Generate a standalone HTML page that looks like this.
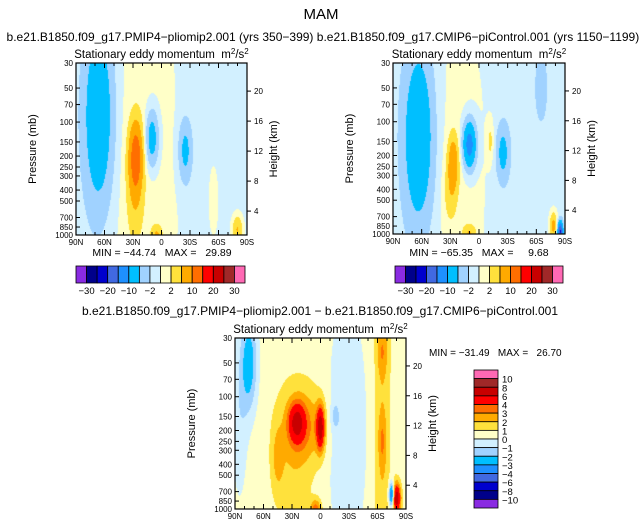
<!DOCTYPE html>
<html><head><meta charset="utf-8"><style>
body{margin:0;background:#fff;width:643px;height:530px;overflow:hidden;position:relative;font-family:"Liberation Sans",sans-serif}
canvas{position:absolute}
svg{position:absolute;left:0;top:0}
svg text{white-space:pre}
</style></head><body>
<canvas id="c1" width="171" height="172" style="left:76px;top:63px"></canvas>
<canvas id="c2" width="172" height="171" style="left:393px;top:63px"></canvas>
<canvas id="c3" width="171" height="171" style="left:235px;top:338px"></canvas>
<svg id="s" width="643" height="530"></svg>
<script>
const colors=["#8a2be2","#00008b","#0000cd","#4169e1","#1e90ff","#00bfff","#a0d2ff","#d2f0ff","#ffffc8","#ffe13c","#ffaa00","#ff6e00","#ff0000","#c80000","#a02828","#ff69b4"];
const levelsTop=[-30,-25,-20,-15,-10,-5,-2,0,2,5,10,15,20,25,30];
const levelsDiff=[-10,-8,-6,-4,-3,-2,-1,0,1,2,3,4,6,8,10];
const pressureTicks=[30,50,70,100,150,200,250,300,400,500,700,850,1000];
const heightTicks=[4,8,12,16,20];
const latTicks=[90,60,30,0,-30,-60,-90];
const latLabels=["90N","60N","30N","0","30S","60S","90S"];
// blobs: [lat, pressure(mb), amplitude, lat sigma (deg), log-p sigma (fraction)]
const base1=-0.8, base2=-0.9, base3=0.5;
const blobs1=[[20,300,1.8,30,1.0],[66,90,-9,11,0.38],[27,200,12,5,0.14],[28,420,3.5,6,0.2],[10,140,-8,5,0.12],[-25,180,-6,5,0.13],[5,1000,5,4,0.04],[-80,900,6,4,0.06],[-55,500,1.2,5,0.2]];
const blobs2=[[20,250,1.6,25,0.8],[63,140,-9,11,0.36],[10,160,-13,5,0.1],[27,230,8,4,0.11],[30,450,3,5,0.12],[-25,190,-6,5,0.12],[-12,150,3,2.5,0.08],[-65,50,-1.5,8,0.25],[10,1000,5,5,0.04],[-78,850,7,3,0.06],[-85,950,-20,2,0.04]];
const blobs3=[[75,50,-3.2,6,0.2],[85,150,-1.2,6,0.35],[25,170,4.5,6,0.08],[0,190,6,3,0.09],[15,180,2,15,0.15],[30,350,1.2,15,0.3],[45,350,1.5,4,0.12],[-65,200,1.3,6,1.5],[-65,40,1.4,4,0.1],[-65,250,1.5,3,0.12],[-28,200,-1.5,14,0.5],[-15,150,-1.2,3,0.06],[5,1000,3,4,0.04],[-80,800,7,3,0.06],[-75,750,-6,2,0.05]];
const L=Math.log(1000/30);
function pFrac(p){return Math.log(p/30)/L;}
function field(base,blobs,lat,yf){let v=base;for(const b of blobs){const dx=(lat-b[0])/b[3],dy=(yf-pFrac(b[1]))/b[4];v+=b[2]*Math.exp(-0.5*(dx*dx+dy*dy));}return v;}
function colorFor(v,lev){let i=0;while(i<lev.length&&v>lev[i])i++;return colors[i];}
function draw(id,base,blobs,lev){const c=document.getElementById(id),ctx=c.getContext('2d');const W=c.width,H=c.height;for(let j=0;j<H;j++){for(let i=0;i<W;i++){const lat=90-180*(i+0.5)/W;const yf=(j+0.5)/H;ctx.fillStyle=colorFor(field(base,blobs,lat,yf),lev);ctx.fillRect(i,j,1,1);}}}
draw('c1',base1,blobs1,levelsTop);draw('c2',base2,blobs2,levelsTop);draw('c3',base3,blobs3,levelsDiff);
const S=document.getElementById('s');const NS='http://www.w3.org/2000/svg';
function el(t,a,txt){const e=document.createElementNS(NS,t);for(const k in a)e.setAttribute(k,a[k]);if(txt!==undefined)e.textContent=txt;S.appendChild(e);return e;}
function text(x,y,s,size,anchor,name){const e=el('text',{x:x,y:y,'font-size':size,'text-anchor':anchor||'start',fill:'#000'},s);return e;}
function axes(x0,y0,w,h,tag){
 const r=el('rect',{x:x0,y:y0,width:w,height:h,fill:'none',stroke:'#000','stroke-width':1.2});
 
 pressureTicks.forEach(p=>{const y=y0+pFrac(p)*h;el('line',{x1:x0,x2:x0+4,y1:y,y2:y,stroke:'#000'});text(x0-3,y+3,String(p),8,'end',tag+'-pressure-tick');});
 heightTicks.forEach(z=>{const y=y0+h*(0.861-(z-4)*0.0436);el('line',{x1:x0+w,x2:x0+w+4,y1:y,y2:y,stroke:'#000'});text(x0+w+7,y+3,String(z),8,'start',tag+'-height-tick');});
 for(let lat=90;lat>=-90;lat-=10){const x=x0+(90-lat)/180*w;const len=lat%30===0?5:3;el('line',{x1:x,x2:x,y1:y0+h,y2:y0+h-len,stroke:'#000'});el('line',{x1:x,x2:x,y1:y0,y2:y0+len,stroke:'#000'});}
 latTicks.forEach((lat,i)=>{const x=x0+(90-lat)/180*w;text(x,y0+h+10,latLabels[i],8,'middle',tag+'-lat-tick');});
 const t=text(x0-40,y0+h/2,'Pressure (mb)',11,'middle',tag+'-y-axis-title');t.setAttribute('transform','rotate(-90 '+(x0-40)+' '+(y0+h/2)+')');
 const t2=text(x0+w+30,y0+h/2,'Height (km)',11,'middle',tag+'-right-axis-title');t2.setAttribute('transform','rotate(-90 '+(x0+w+30)+' '+(y0+h/2)+')');
 const st=el('text',{x:x0+w/2,y:y0-5,'font-size':11.5,'text-anchor':'middle'});
 st.innerHTML='Stationary eddy momentum&#160;&#160;m<tspan dy="-4" font-size="8">2</tspan><tspan dy="4">/s</tspan><tspan dy="-4" font-size="8">2</tspan>';
}
function hbar(x0,y0,w,h,lev,tag){const n=colors.length,bw=w/n;colors.forEach((c,i)=>{const r=el('rect',{x:x0+i*bw,y:y0,width:bw,height:h,fill:c,stroke:'#000','stroke-width':0.8});});
 lev.forEach((v,i)=>{if(i%2===0)text(x0+(i+1)*bw,y0+h+11,String(v).replace('-','\u2212'),9.5,'middle',tag+'-colorbar-label');});}
function vbar(x0,y0,w,h,lev,tag){const n=colors.length,bh=h/n;colors.slice().reverse().forEach((c,i)=>{const r=el('rect',{x:x0,y:y0+i*bh,width:w,height:bh,fill:c,stroke:'#000','stroke-width':0.8});});
 lev.slice().reverse().forEach((v,i)=>{text(x0+w+4,y0+(i+1)*bh+4,String(v).replace('-','\u2212'),9.5,'start',tag+'-colorbar-label');});}
text(321,19,'MAM',15,'middle','main-title');
text(160,41,'b.e21.B1850.f09_g17.PMIP4\u2212pliomip2.001 (yrs 350\u2212399)',12,'middle','left-panel-title');
text(478,41,'b.e21.B1850.f09_g17.CMIP6\u2212piControl.001 (yrs 1150\u22121199)',12,'middle','right-panel-title');
text(320,315,'b.e21.B1850.f09_g17.PMIP4\u2212pliomip2.001 \u2212 b.e21.B1850.f09_g17.CMIP6\u2212piControl.001',12,'middle','diff-panel-title');
axes(76,63,171,172,'left');axes(393,63,172,171,'right');axes(235,338,171,171,'diff');
text(162,256,'MIN = \u221244.74   MAX =   29.89',10.5,'middle','left-min-max');
text(479,256,'MIN = \u221265.35   MAX =     9.68',10.5,'middle','right-min-max');
text(429,356,'MIN = \u221231.49   MAX =   26.70',10,'start','diff-min-max');
hbar(76,266,169,17,levelsTop,'left');hbar(395,266,168,17,levelsTop,'right');
vbar(474,370,24,138,levelsDiff,'diff');
</script></body></html>
